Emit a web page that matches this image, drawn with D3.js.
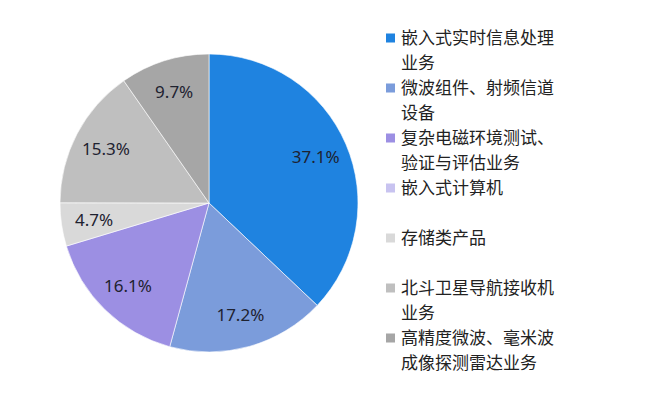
<!DOCTYPE html>
<html>
<head>
<meta charset="utf-8">
<script src="https://cdn.jsdelivr.net/npm/d3@7"></script>
<style>
  body { margin: 0; background: #fff; }
</style>
</head>
<body>
<div id="chart"></div>
<script>
// legend names, split where the original wraps them
var categories = [
  ["嵌入式实时信息处理", "业务"],
  ["微波组件、射频信道", "设备"],
  ["复杂电磁环境测试、", "验证与评估业务"],
  ["嵌入式计算机"],
  ["存储类产品"],
  ["北斗卫星导航接收机", "业务"],
  ["高精度微波、毫米波", "成像探测雷达业务"]
];
var values = [37.1, 17.2, 16.1, 0, 4.7, 15.3, 9.7];
var colors = ["#1f83e0", "#7b9cdb", "#9c8fe3", "#c8c3f0", "#d9d9d9", "#bfbfbf", "#a6a6a6"];

var svgWidth = 646, svgHeight = 396;
var cx = 209, cy = 203, radius = 149;

var svg = d3.select("#chart").append("svg")
  .attr("width", svgWidth)
  .attr("height", svgHeight);

var data = values.map(function(v, i) { return { name: categories[i], value: v, color: colors[i] }; });

var pie = d3.pie().sort(null).value(function(d) { return d.value; });
var arc = d3.arc().innerRadius(0).outerRadius(radius);
var labelArc = d3.arc().innerRadius(radius * 0.78).outerRadius(radius * 0.78);

var g = svg.append("g").attr("transform", "translate(" + cx + "," + cy + ")");

var arcs = pie(data).filter(function(d) { return d.data.value > 0; });

g.selectAll("path")
  .data(arcs)
  .enter()
  .append("path")
  .attr("d", arc)
  .attr("fill", function(d) { return d.data.color; })
  .attr("stroke", "#fff")
  .attr("stroke-width", 0.6);

g.selectAll("text")
  .data(arcs)
  .enter()
  .append("text")
  .attr("transform", function(d) { return "translate(" + labelArc.centroid(d) + ")"; })
  .attr("text-anchor", "middle")
  .attr("dy", "0.35em")
  .attr("font-family", "'Noto Sans', 'Open Sans', sans-serif")
  .attr("font-size", 17)
  .attr("fill", "#1e2230")
  .text(function(d) { return d.data.value.toFixed(1) + "%"; });

// legend
var legend = svg.append("g").attr("transform", "translate(386,38)");

var item = legend.selectAll("g")
  .data(data)
  .enter()
  .append("g")
  .attr("transform", function(d, i) { return "translate(0," + (i * 50) + ")"; });

item.append("rect")
  .attr("x", 0)
  .attr("y", -4.5)
  .attr("width", 9)
  .attr("height", 9)
  .attr("fill", function(d) { return d.color; });

item.each(function(d) {
  d3.select(this).selectAll("text")
    .data(d.name)
    .enter()
    .append("text")
    .attr("x", 15)
    .attr("y", function(t, j) { return j * 25; })
    .attr("dy", "0.36em")
    .attr("font-family", "'Noto Sans CJK SC', sans-serif")
    .attr("font-size", 17)
    .attr("fill", "#222")
    .text(function(t) { return t; });
});
</script>
</body>
</html>
